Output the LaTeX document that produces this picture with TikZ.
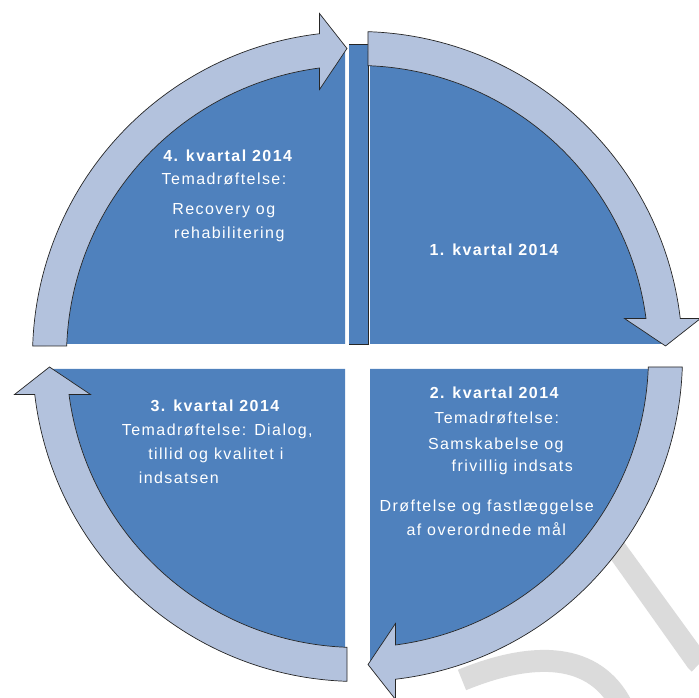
\documentclass[tikz,border=0pt]{standalone}
\usepackage{fontspec}
\setmainfont{Liberation Sans}
\newfontfamily\kvfont[LetterSpace=9]{Liberation Sans}
\usetikzlibrary{calc}
\definecolor{kvblue}{HTML}{4F81BD}
\definecolor{kvarrow}{HTML}{B3C2DD}
\definecolor{kvline}{HTML}{262626}
\tikzstyle{quarter} = [fill=kvblue]
\tikzstyle{ring} = [fill=kvarrow, draw=kvline, line width=0.7pt, line join=miter]
\tikzstyle{kv} = [text=white, inner sep=0pt, anchor=base, font=\kvfont\fontsize{16}{19}\selectfont]
\tikzstyle{kvhead} = [kv, font=\kvfont\bfseries\fontsize{16}{19}\selectfont]

\begin{document}
\begin{tikzpicture}[x=1pt, y=1pt]
 		\useasboundingbox (0,0) rectangle (699,698);
 		% watermark
 		\fill[black!14] (597.5,157.4) -- (610.8,174.1) -- (700,51.3) -- (700,35) -- (691.7,26.3) -- (688.3,29.7) -- cycle;
 		\draw[black!14, line width=22] (462,18) .. controls (535,48) and (595,45) .. (622,-8);
 		\begin{scope}[shift={(357.5,341.5)}]
 			\foreach \sx/\sy/\a in {1/1/0,-1/1/90,-1/-1/180,1/-1/270}
 				\fill[quarter] (12.5*\sx,12.5*\sy) -- ++(\a:295) arc[start angle=\a, delta angle=90, radius=295] -- cycle;
 			\fill[quarter] (-8.5,12.5) rectangle (10.5,312.5);
 			\draw[kvline, line width=0.5pt] (-8.5,312.5) -- (10.5,312.5) -- (10.5,12.5) -- (-8.5,12.5);
 			\foreach \r in {0,90,180,270}
 				\filldraw[ring, rotate=-\r] (88.15:325) arc[start angle=88.15, end angle=6.71, radius=325]
 					-- (343,38) -- (308,10.5) -- (267,38)
 					-- (7.5:291) arc[start angle=7.5, end angle=87.93, radius=291] -- cycle;
 		\end{scope}
 		\node[kvhead] (q4head) at (227.7,536.3) {4. kvartal 2014};
 		\node[kv] (q4tema) at (224,513) {Temadrøftelse:};
 		\node[kv] (q4recov) at (223.8,483) {Recovery og};
 		\node[kv] (q4rehab) at (229.3,459) {rehabilitering};
 		\node[kvhead] (q1head) at (494,442) {1. kvartal 2014};
 		\node[kvhead] (q2head) at (494.2,299) {2. kvartal 2014};
 		\node[kv] (q2tema) at (496.7,274) {Temadrøftelse:};
 		\node[kv] (q2sams) at (495.8,248.7) {Samskabelse og};
 		\node[kv] (q2friv) at (512.3,226.3) {frivillig indsats};
 		\node[kv] (q2droft) at (486.7,186.3) {Drøftelse og fastlæggelse};
 		\node[kv] (q2maal) at (486.3,162) {af overordnede mål};
 		\node[kvhead] (q3head) at (215,286.3) {3. kvartal 2014};
 		\node[kv] (q3tema) at (217.3,262.3) {Temadrøftelse: Dialog,};
 		\node[kv] (q3tillid) at (215.8,238) {tillid og kvalitet i};
 		\node[kv] (q3inds) at (178.8,214.7) {indsatsen};
\end{tikzpicture}
\end{document}
